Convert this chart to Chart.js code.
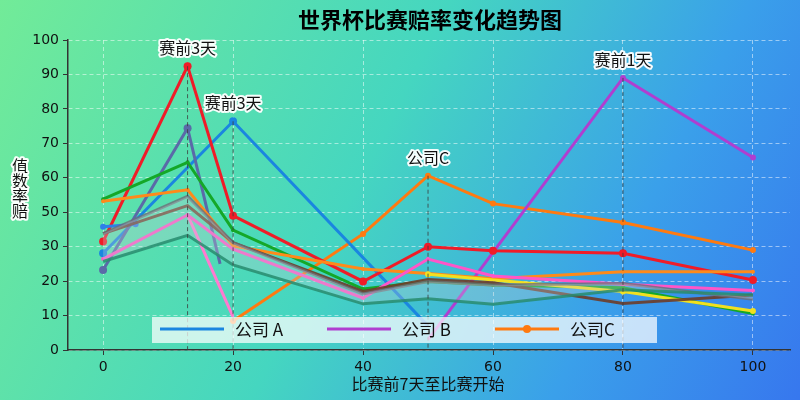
<!DOCTYPE html>
<html><head><meta charset="utf-8">
<script src="https://cdn.jsdelivr.net/npm/chart.js"></script>
<style>html,body{margin:0;padding:0}#c{display:block}</style>
</head><body>
<div style="width:800px;height:400px"><canvas id="c" width="800" height="400"></canvas></div>
<script>
const xs = [0, 13, 20, 40, 50, 60, 80, 100];
const yTickLabels = ['0','10','20','30','50','60','70','80','90','100'];
const companyA = [[0,28.1],[20,66.4],[50,7]];
const companyB = [[50,3],[80,79],[100,55.9]];
const companyC = [[20,8.4],[40,33.7],[50,50.6],[60,42.5],[80,37],[100,29]];
const redS    = [31.5,82.4,39,19.9,30,28.8,28.1,20.3];
const greenS  = [43.8,54.5,34.8,17.7,19.9,18.9,18.1,10.6];
const orangeS = [43.2,46.5,30.2,23.5,22.2,20.7,22.7,22.7];
const taupeS  = [33.8,44.6,31.2,16.3,19.9,18.9,19.3,14.7];
const brownS  = [33.8,41.9,31.2,17.0,20.5,19.5,13.5,16.0];
const pinkS   = [26.4,39.2,29.3,15.1,26.4,21.5,19.1,17.3];
const tealS   = [25.7,33.3,24.7,13.4,14.9,13.3,17.5,16.0];
const slateS  = [[0,23.2],[13,64.4],[18,25]];
const pink2S  = [[13,39.2],[20,9.6]];
const blue2S  = [[0,35.8],[5,36.5]];
const yellowS = [[50,22],[80,17],[100,11.3]];
const annotations = [[13,82.4,'赛前3天'],[20,66.4,'赛前3天'],[50,50.6,'公司C'],[80,79,'赛前1天']];
const legendItems = [['公司 A','#1a86e0',false],['公司 B','#b03ed0',false],['公司C','#ff7a10',true]];

const pts = a => a.map((v,i)=>({x:xs[i],y:v}));
const pp = a => a.map(p=>({x:p[0],y:p[1]}));
function ds(label,data,color,w,r,extra){return Object.assign({label,data,borderColor:color,backgroundColor:color,borderWidth:w,pointRadius:r,pointHoverRadius:r,pointBorderWidth:0,tension:0,fill:false},extra||{});}

const bgPlugin={id:'bg',beforeDraw(c){const g=c.ctx;const gr=g.createLinearGradient(0,0,800,400);gr.addColorStop(0,'#72eb98');gr.addColorStop(0.45,'#45d6c0');gr.addColorStop(0.75,'#3aa0ea');gr.addColorStop(1,'#3777ee');g.save();g.fillStyle=gr;g.fillRect(0,0,800,400);g.restore();}};
function glowText(g,t,x,y,font){g.save();g.font=font;g.textAlign='center';g.textBaseline='middle';g.lineJoin='round';g.strokeStyle='rgba(255,255,255,0.95)';g.lineWidth=4;g.strokeText(t,x,y);g.fillStyle='#111';g.fillText(t,x,y);g.restore();}
const deco={id:'deco',afterDatasetsDraw(c){const g=c.ctx,xS=c.scales.x,yS=c.scales.y;
 g.save();g.setLineDash([4,3]);g.strokeStyle='rgba(60,60,60,0.8)';g.lineWidth=1;
 annotations.forEach(a=>{const px=xS.getPixelForValue(a[0]);g.beginPath();g.moveTo(px,yS.getPixelForValue(a[1]));g.lineTo(px,yS.bottom);g.stroke();});g.restore();
 annotations.forEach(a=>glowText(g,a[2],xS.getPixelForValue(a[0]),yS.getPixelForValue(a[1])-18,'16px "Noto Sans CJK SC"'));
 g.save();g.font='bold 22px "Noto Sans CJK SC"';g.textAlign='center';g.textBaseline='middle';g.fillStyle='#000';g.fillText('世界杯比赛赔率变化趋势图',430,20);g.restore();
 const yc=['值','数','率','赔'];yc.forEach((ch,i)=>glowText(g,ch,20,166+i*15,'16px "Noto Sans CJK SC"'));
 g.save();g.font='16px "Noto Sans CJK SC"';g.textAlign='center';g.fillStyle='#111';g.textBaseline='middle';g.fillText('比赛前7天至比赛开始',428,384);g.restore();
 g.save();g.fillStyle='rgba(255,255,255,0.72)';g.fillRect(152,317,505,26);
 const lx=[160,327,495];legendItems.forEach((it,i)=>{g.strokeStyle=it[1];g.lineWidth=3;g.beginPath();g.moveTo(lx[i],329);g.lineTo(lx[i]+64,329);g.stroke();if(it[2]){g.fillStyle=it[1];g.beginPath();g.arc(lx[i]+32,329,4,0,7);g.fill();}
 g.font='17px "Noto Sans CJK SC"';g.fillStyle='#111';g.textAlign='left';g.textBaseline='middle';g.fillText(it[0],lx[i]+75,330);});g.restore();
}};

new Chart(document.getElementById('c'),{type:'line',
 data:{datasets:[
  ds('teal',pts(tealS),'rgba(40,140,110,0.85)',3,0,{fill:'+1',backgroundColor:'rgba(200,210,215,0.3)'}),
  ds('taupe',pts(taupeS),'rgba(110,110,120,0.8)',3,0),
  ds('brown',pts(brownS),'rgba(110,60,40,0.9)',3,0),
  ds('blue2',pp(blue2S),'#2e7fe8',3,3),
  ds('pink',pts(pinkS),'#ff55c8',3,2),
  ds('pink2',pp(pink2S),'#ff7ad0',3,0),
  ds('yellow',pp(yellowS),'#f2e020',3,3),
  ds('orangeL',pts(orangeS),'#ff8a1a',3,2),
  ds('green',pts(greenS),'#14a828',3,2),
  ds('slate',pp(slateS),'#5a6aa8',3,[4,4,0]),
  ds('red',pts(redS),'#f01c28',3,4),
  ds('公司 A',pp(companyA),'#1a86e0',3,[4,4,0]),
  ds('公司 B',pp(companyB),'#b03ed0',3,[0,3,3]),
  ds('公司C',pp(companyC),'#ff7a10',3,3)
 ]},
 options:{responsive:false,animation:false,events:[],
  layout:{padding:{top:40,right:10,left:0,bottom:0}},
  plugins:{legend:{display:false},title:{display:false},tooltip:{enabled:false}},
  scales:{
   x:{type:'linear',min:-5.4,max:105.7,afterBuildTicks(s){s.ticks=[0,20,40,60,80,100].map(v=>({value:v}));},afterFit(s){s.height=50;},
      grid:{color:'rgba(255,255,255,0.5)',tickColor:'#333',tickLength:5},border:{color:'#333',width:1.5,dash:[4,3]},
      ticks:{color:'#111',font:{size:14,family:'DejaVu Sans'},padding:4}},
   y:{min:0,max:90,afterBuildTicks(s){s.ticks=[0,10,20,30,40,50,60,70,80,90].map(v=>({value:v}));},afterFit(s){s.width=68;},
      grid:{color:'rgba(255,255,255,0.5)',tickColor:'#333',tickLength:5},border:{color:'#333',width:1.5,dash:[4,3]},
      ticks:{color:'#111',font:{size:14,family:'DejaVu Sans'},padding:4,callback:(v,i)=>yTickLabels[i]}}
  }},
 plugins:[bgPlugin,deco]
});
</script></body></html>
